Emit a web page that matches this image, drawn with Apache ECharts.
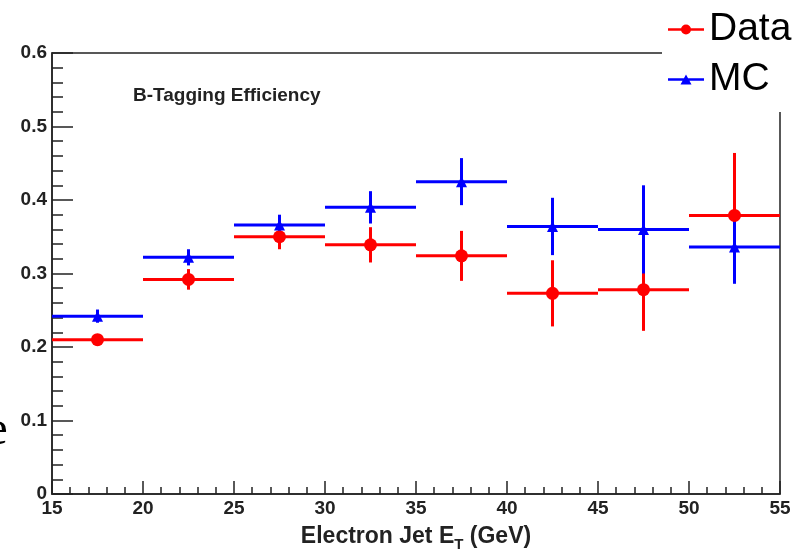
<!DOCTYPE html>
<html>
<head>
<meta charset="utf-8">
<script src="https://cdn.jsdelivr.net/npm/echarts@6/dist/echarts.min.js"></script>
<style>
  html, body { margin: 0; padding: 0; background: #fff; }
  #main { width: 807px; height: 550px; }
</style>
</head>
<body>
<div id="main"></div>
<script>
// bin edges in GeV
var binEdges = [15, 20, 25, 30, 35, 40, 45, 50, 55];
// measured efficiency (Data) and its error
var dataY   = [0.210, 0.292, 0.350, 0.339, 0.324, 0.273, 0.278, 0.379];
var dataErr = [0.006, 0.014, 0.017, 0.024, 0.034, 0.045, 0.056, 0.085];
// Monte Carlo efficiency and its error
var mcY   = [0.242, 0.322, 0.366, 0.390, 0.425, 0.364, 0.360, 0.336];
var mcErr = [0.009, 0.011, 0.014, 0.022, 0.032, 0.039, 0.060, 0.050];

var RED = '#ff0000', BLUE = '#0000ff', INK = '#222';

function errRows(ys, errs) {
  var rows = [];
  for (var i = 0; i < ys.length; i++) {
    rows.push([binEdges[i], binEdges[i + 1], ys[i], errs[i]]);
  }
  return rows;
}
function centerRows(ys) {
  var rows = [];
  for (var i = 0; i < ys.length; i++) {
    rows.push([(binEdges[i] + binEdges[i + 1]) / 2, ys[i]]);
  }
  return rows;
}

// horizontal bin width + vertical error bar
function renderErr(params, api) {
  var lo = api.value(0), hi = api.value(1), y = api.value(2), e = api.value(3);
  var xc = (lo + hi) / 2;
  var a = api.coord([lo, y]), b = api.coord([hi, y]);
  var t = api.coord([xc, y + e]), d = api.coord([xc, y - e]);
  var style = { stroke: api.visual('color'), lineWidth: 3 };
  return {
    type: 'group',
    children: [
      { type: 'line', shape: { x1: a[0], y1: a[1], x2: b[0], y2: b[1] }, style: style },
      { type: 'line', shape: { x1: t[0], y1: t[1], x2: d[0], y2: d[1] }, style: style }
    ]
  };
}

var chart = echarts.init(document.getElementById('main'));

var option = {
  animation: false,
  backgroundColor: '#fff',
  textStyle: { fontFamily: 'Arial, "Liberation Sans", sans-serif' },
  title: {
    text: 'B-Tagging Efficiency',
    left: 133,
    top: 86,
    padding: 0,
    textStyle: { fontSize: 19, fontWeight: 'bold', color: INK }
  },
  legend: {
    orient: 'vertical',
    left: 662,
    top: 0,
    padding: [10, 20, 13, 6],
    itemGap: 11,
    itemWidth: 36,
    itemHeight: 10,
    backgroundColor: '#fff',
    selectedMode: false,
    textStyle: { fontSize: 39, color: '#000', fontWeight: 'normal' },
    data: [
      { name: 'Data', icon: 'path://M0,3.75H36V6.25H0Z M13,5A5,5 0 1,1 23,5A5,5 0 1,1 13,5Z' },
      { name: 'MC', icon: 'path://M0,3.75H36V6.25H0Z M18,0L23.5,10H12.5Z' }
    ]
  },
  grid: {
    left: 52, right: 27, top: 53, bottom: 56,
    outerBoundsMode: 'none',
    containLabel: false,
    show: true,
    borderColor: INK,
    borderWidth: 1.5
  },
  xAxis: {
    type: 'value',
    min: 15, max: 55, interval: 5,
    name: 'Electron Jet E{s|T} (GeV)',
    nameLocation: 'middle',
    nameGap: 28,
    nameTextStyle: {
      color: INK,
      fontSize: 23,
      fontWeight: 'bold',
      rich: {
        s: { fontSize: 15, fontWeight: 'bold', color: INK, verticalAlign: 'bottom', lineHeight: 30 }
      }
    },
    axisLine: { onZero: false, lineStyle: { color: INK, width: 1.5 } },
    axisTick: { inside: true, length: 13, lineStyle: { color: INK, width: 1.5 } },
    minorTick: { show: true, splitNumber: 5, length: 7, lineStyle: { color: INK, width: 1.5 } },
    splitLine: { show: false },
    axisLabel: { fontSize: 19, fontWeight: 'bold', color: INK, margin: 5 }
  },
  yAxis: {
    type: 'value',
    min: 0, max: 0.6, interval: 0.1,
    axisLine: { show: true, onZero: false, lineStyle: { color: INK, width: 1.5 } },
    axisTick: { show: true, inside: true, length: 21, lineStyle: { color: INK, width: 1.5 } },
    minorTick: { show: true, splitNumber: 5, length: 11, lineStyle: { color: INK, width: 1.5 } },
    splitLine: { show: false },
    axisLabel: {
      fontSize: 19, fontWeight: 'bold', color: INK, margin: 5,
      formatter: function (v) { return v === 0 ? '0' : v.toFixed(1); }
    }
  },
  graphic: [
    {
      type: 'text',
      left: -14,
      top: 407,
      silent: true,
      style: { text: 'e', font: '49px "Liberation Serif", "Times New Roman", serif', fill: '#000' }
    }
  ],
  series: [
    {
      name: 'Data', type: 'custom', renderItem: renderErr,
      itemStyle: { color: RED },
      encode: { x: [0, 1], y: [2] },
      data: errRows(dataY, dataErr), silent: true
    },
    {
      name: 'MC', type: 'custom', renderItem: renderErr,
      itemStyle: { color: BLUE },
      encode: { x: [0, 1], y: [2] },
      data: errRows(mcY, mcErr), silent: true
    },
    {
      name: 'Data', type: 'scatter', symbol: 'circle', symbolSize: 13,
      itemStyle: { color: RED, opacity: 1 },
      data: centerRows(dataY), silent: true
    },
    {
      name: 'MC', type: 'scatter', symbol: 'triangle', symbolSize: [11, 11],
      itemStyle: { color: BLUE, opacity: 1 },
      data: centerRows(mcY), silent: true
    }
  ]
};

chart.setOption(option);
window.addEventListener('resize', function () { chart.resize(); });
</script>
</body>
</html>
